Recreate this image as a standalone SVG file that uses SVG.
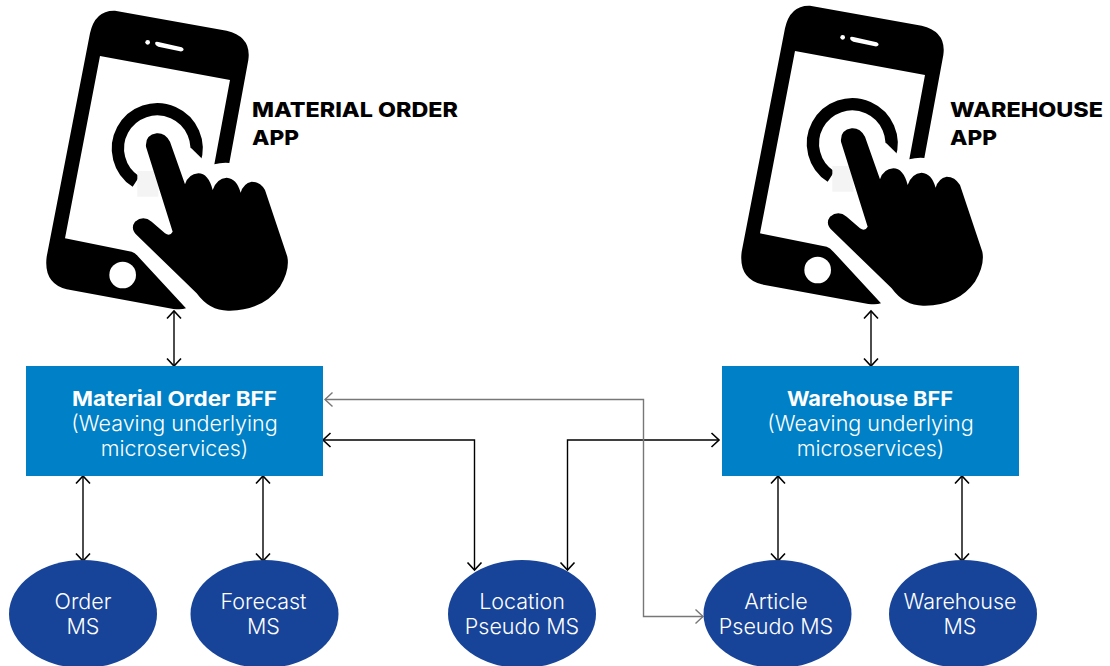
<svg xmlns="http://www.w3.org/2000/svg" width="1110" height="666" viewBox="0 0 1110 666">
<style>
text{font-family:"Inter","Liberation Sans",sans-serif}
.head{font-size:20.5px;font-weight:800;fill:#000}
.bff{fill:#0080c6}
.ms{fill:#174499}
.lab{font-size:21.500px;fill:#fff;text-anchor:middle;font-weight:300}
.b{font-weight:700;font-size:20.500px}
.c{fill:none;stroke:#000;stroke-width:1.4}
.g{fill:none;stroke:#777;stroke-width:1.4}
</style>
<defs>
<marker id="ab" markerUnits="userSpaceOnUse" markerWidth="18" markerHeight="18" refX="15" refY="8" orient="auto-start-reverse" viewBox="0 0 18 16"><path d="M7.5 1 L15 8 L7.5 15" fill="none" stroke="#000" stroke-width="1.6"/></marker>
<marker id="ag" markerUnits="userSpaceOnUse" markerWidth="18" markerHeight="18" refX="15" refY="8" orient="auto-start-reverse" viewBox="0 0 18 16"><path d="M7.5 1 L15 8 L7.5 15" fill="none" stroke="#777" stroke-width="1.4"/></marker>
<g id="icon" transform="scale(.33333)">
<path d="M255 32 L590 92 Q665 110 655 180 L598 489 Q575 487 553 493 L600 240 L210 168 L105 715 L305 755 Q315 758 325 770 L468 925 Q455 930 430 927 L110 868 Q40 850 50 770 L180 100 Q195 30 255 32 Z"/>
<circle cx="353" cy="127" r="7" fill="#fff"/>
<path d="M376 127 Q378 124 385 126 L455 142 Q463 146 460 151 Q458 155 450 154 L385 140 Q373 135 376 127 Z" fill="#fff"/>
<circle cx="278" cy="825" r="40" fill="#fff"/>
<path d="M318 545 A118 118 0 1 1 493 485" fill="none" stroke="#000" stroke-width="37"/>
<path d="M472 442 L484 445 L520 480 L520 510 L460 510 Z" fill="#fff"/>
<rect x="322" y="513" width="63" height="77" fill="#f4f4f4"/>
<path d="M428 695 Q420 710 405 700 L365 665 Q340 645 315 665 Q300 685 320 705 L500 880 Q540 935 600 932 Q700 930 750 860 Q780 810 772 770 L705 570 Q690 545 665 545 Q640 550 632 578 Q620 535 590 533 Q560 535 548 570 Q535 520 505 520 Q475 522 465 553 L420 425 Q405 398 380 400 Q345 405 348 440 Z"/>
</g>
</defs>
<g id="connectors">
<path class="c" d="M174 311V366" marker-start="url(#ab)" marker-end="url(#ab)"/>
<path class="c" d="M871 311V366" marker-start="url(#ab)" marker-end="url(#ab)"/>
<path class="c" d="M83 476V561" marker-start="url(#ab)" marker-end="url(#ab)"/>
<path class="c" d="M263 476V561" marker-start="url(#ab)" marker-end="url(#ab)"/>
<path class="c" d="M778 476V561" marker-start="url(#ab)" marker-end="url(#ab)"/>
<path class="c" d="M962 476V561" marker-start="url(#ab)" marker-end="url(#ab)"/>
<path class="c" d="M323 440H474.500V570" marker-start="url(#ab)" marker-end="url(#ab)"/>
<path class="c" d="M719 440H567.500V570" marker-start="url(#ab)" marker-end="url(#ab)"/>
<path class="g" d="M325 399.500H643.500V616.500H703" marker-start="url(#ag)" marker-end="url(#ag)"/>
</g>
<g id="material-app"><use href="#icon" transform="translate(30 0)"/><text class="head" x="252" y="117" textLength="206" lengthAdjust="spacingAndGlyphs">MATERIAL ORDER</text><text class="head" x="252" y="145" textLength="47" lengthAdjust="spacingAndGlyphs">APP</text></g>
<g id="warehouse-app"><use href="#icon" transform="translate(725 -5)"/><text class="head" x="950" y="117" textLength="153" lengthAdjust="spacingAndGlyphs">WAREHOUSE</text><text class="head" x="950" y="145" textLength="47" lengthAdjust="spacingAndGlyphs">APP</text></g>
<g id="material-bff"><rect class="bff" x="26" y="366" width="297" height="110"/><text class="lab b" x="174.500" y="406" textLength="205" lengthAdjust="spacingAndGlyphs">Material Order BFF</text><text class="lab" x="174.500" y="431">(Weaving underlying</text><text class="lab" x="174.500" y="456">microservices)</text></g>
<g id="warehouse-bff"><rect class="bff" x="722" y="366" width="297" height="110"/><text class="lab b" x="870" y="406" textLength="166" lengthAdjust="spacingAndGlyphs">Warehouse BFF</text><text class="lab" x="870.500" y="431">(Weaving underlying</text><text class="lab" x="870.500" y="456">microservices)</text></g>
<g id="order-ms"><ellipse class="ms" cx="83" cy="614" rx="74" ry="54"/><text class="lab" x="83" y="609">Order</text><text class="lab" x="83" y="634">MS</text></g>
<g id="forecast-ms"><ellipse class="ms" cx="264.500" cy="614" rx="74" ry="54"/><text class="lab" x="263.500" y="609">Forecast</text><text class="lab" x="263.500" y="634">MS</text></g>
<g id="location-ms"><ellipse class="ms" cx="522" cy="614" rx="74" ry="54"/><text class="lab" x="522" y="609">Location</text><text class="lab" x="522" y="634">Pseudo MS</text></g>
<g id="article-ms"><ellipse class="ms" cx="777.500" cy="614" rx="74" ry="54"/><text class="lab" x="776" y="609">Article</text><text class="lab" x="776" y="634">Pseudo MS</text></g>
<g id="warehouse-ms"><ellipse class="ms" cx="963" cy="614" rx="74" ry="54"/><text class="lab" x="960" y="609">Warehouse</text><text class="lab" x="960" y="634">MS</text></g>
</svg>
